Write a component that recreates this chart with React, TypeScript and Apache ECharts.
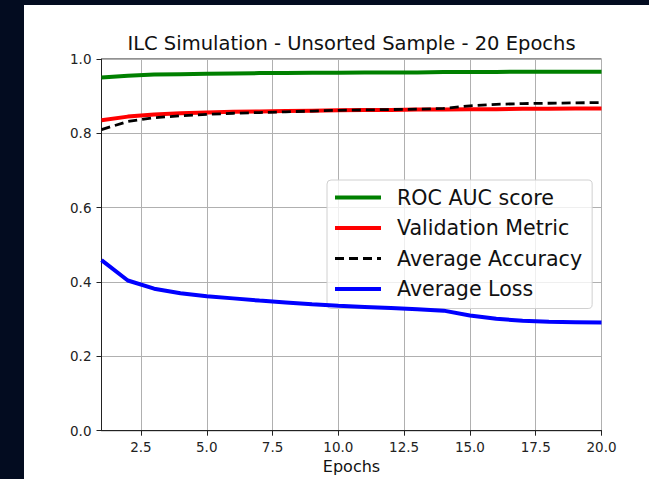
import React, { useEffect, useRef } from "react";
import * as echarts from "echarts";

const epochs = [1, 2, 3, 4, 5, 6, 7, 8, 9, 10, 11, 12, 13, 14, 15, 16, 17, 18, 19, 20];
const rocAuc = [0.950, 0.955, 0.958, 0.959, 0.960, 0.961, 0.962, 0.962, 0.963, 0.963, 0.964, 0.964, 0.964, 0.965, 0.965, 0.965, 0.966, 0.966, 0.966, 0.966];
const validation = [0.835, 0.845, 0.851, 0.854, 0.856, 0.858, 0.859, 0.860, 0.861, 0.862, 0.863, 0.863, 0.864, 0.864, 0.865, 0.865, 0.866, 0.866, 0.867, 0.867];
const accuracy = [0.810, 0.832, 0.842, 0.847, 0.851, 0.854, 0.856, 0.858, 0.860, 0.862, 0.863, 0.864, 0.865, 0.867, 0.874, 0.878, 0.880, 0.881, 0.882, 0.883];
const loss = [0.459, 0.404, 0.382, 0.370, 0.362, 0.356, 0.350, 0.345, 0.340, 0.336, 0.333, 0.330, 0.327, 0.323, 0.310, 0.301, 0.296, 0.293, 0.292, 0.291];
const xTicks = [2.5, 5, 7.5, 10, 12.5, 15, 17.5, 20];
const seriesNames = ["ROC AUC score", "Validation Metric", "Average Accuracy", "Average Loss"];
const title = "ILC Simulation - Unsorted Sample - 20 Epochs";

const FONT = "DejaVu Sans";

export default function App() {
  const ref = useRef<HTMLDivElement>(null);
  useEffect(() => {
    if (!ref.current) return;
    const chart = echarts.init(ref.current, undefined, { renderer: "svg" });
    const pair = (arr: number[]) => epochs.map((e, i) => [e, arr[i]]);
    const legendWidths = [4, 4, 3, 4];
    const option: any = {
      animation: false,
      backgroundColor: "#ffffff",
      textStyle: { fontFamily: FONT },
      graphic: [
        {
          type: "text",
          x: 327.5,
          y: 38.5,
          style: {
            text: title,
            fontFamily: FONT,
            fontSize: 19.5,
            fill: "#111",
            align: "center",
            verticalAlign: "middle",
          },
        },
      ],
      grid: {
        left: 77.5,
        right: 47.5,
        top: 54,
        bottom: 48.3,
        outerBoundsMode: "none",
        containLabel: false,
        show: true,
        borderColor: "#222",
        borderWidth: 1,
      },
      legend: {
        left: 303,
        top: 175,
        orient: "vertical",
        data: seriesNames.map((n, i) => ({ name: n, lineStyle: { width: legendWidths[i] } })),
        itemWidth: 46,
        itemHeight: 14,
        itemGap: 9.5,
        padding: [7, 10, 9, 6],
        backgroundColor: "rgba(255,255,255,0.8)",
        borderColor: "#d0d0d0",
        borderWidth: 1,
        borderRadius: 4,
        itemStyle: { opacity: 0 },
        textStyle: {
          fontFamily: FONT,
          fontSize: 20.6,
          lineHeight: 21,
          color: "#111",
          padding: [0, 0, 0, 11],
        },
      },
      xAxis: {
        type: "value",
        min: 1,
        max: 20,
        name: "Epochs",
        nameLocation: "middle",
        nameGap: 27,
        nameTextStyle: { fontFamily: FONT, fontSize: 16, color: "#111", verticalAlign: "top" },
        axisLine: { show: true, lineStyle: { color: "#222", width: 1 } },
        axisTick: { show: true, length: 5, customValues: xTicks, lineStyle: { color: "#222" } },
        axisLabel: {
          customValues: xTicks,
          margin: 9,
          fontFamily: FONT,
          fontSize: 13.5,
          color: "#222",
          formatter: (v: number) => v.toFixed(1),
        },
        splitLine: { show: true, customValues: xTicks, lineStyle: { color: "#b0b0b0", width: 1 } },
      },
      yAxis: {
        type: "value",
        min: 0,
        max: 1,
        interval: 0.2,
        axisLine: { show: true, lineStyle: { color: "#222", width: 1 } },
        axisTick: { show: true, length: 5, lineStyle: { color: "#222" } },
        axisLabel: {
          margin: 10,
          fontFamily: FONT,
          fontSize: 13.5,
          color: "#222",
          formatter: (v: number) => v.toFixed(1),
        },
        splitLine: { show: true, lineStyle: { color: "#b0b0b0", width: 1 } },
      },
      series: [
        {
          name: seriesNames[0],
          type: "line",
          data: pair(rocAuc),
          symbol: "none",
          color: "#008000",
          lineStyle: { color: "#008000", width: 4 },
          z: 2,
        },
        {
          name: seriesNames[1],
          type: "line",
          data: pair(validation),
          symbol: "none",
          color: "#ff0000",
          lineStyle: { color: "#ff0000", width: 4 },
          z: 3,
        },
        {
          name: seriesNames[2],
          type: "line",
          data: pair(accuracy),
          symbol: "none",
          color: "#000000",
          lineStyle: { color: "#000000", width: 2.8, type: [9, 5] },
          z: 4,
        },
        {
          name: seriesNames[3],
          type: "line",
          data: pair(loss),
          symbol: "none",
          color: "#0000ff",
          lineStyle: { color: "#0000ff", width: 4 },
          z: 5,
        },
      ],
    };
    chart.setOption(option);
    return () => chart.dispose();
  }, []);
  return (
    <div
      style={{
        position: "fixed",
        left: 0,
        top: 0,
        width: 649,
        height: 479,
        background: "#030c20",
      }}
    >
      <div
        ref={ref}
        style={{ position: "absolute", left: 24, top: 5, width: 625, height: 474 }}
      />
    </div>
  );
}
